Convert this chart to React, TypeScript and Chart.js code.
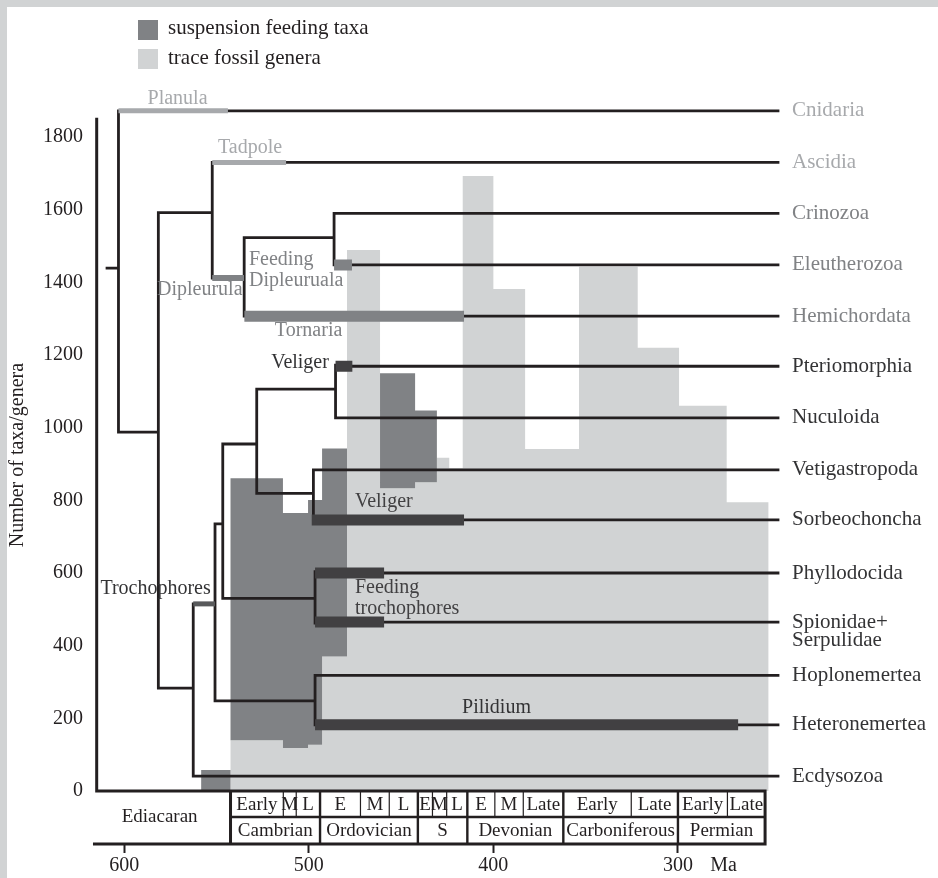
import React, { useEffect, useRef } from "react";
import { Chart, registerables } from "chart.js";

Chart.register(...registerables);

// ---------------- data ----------------
const yTickValues = [0, 200, 400, 600, 800, 1000, 1200, 1400, 1600, 1800];
const xTickValues = [600, 500, 400, 300];
const xUnit = "Ma";
const xUnitAt = 275.3;
const yTitle = "Number of taxa/genera";
const legendLabels = ["suspension feeding taxa", "trace fossil genera"];

// trace fossil genera (step histogram, Ma bin edges)
const traceEdges = [542.4, 514.0, 500.4, 492.8, 479.3, 461.4, 442.4, 430.6, 423.9, 416.6, 400.0, 382.8, 353.6, 321.8, 299.4, 273.6, 251.0];
const traceCounts = [140, 118, 127, 370, 1489, 833, 850, 917, 888, 1693, 1382, 941, 1443, 1220, 1060, 795];

// suspension feeding taxa (floating bins)
const suspStart = [558.3, 542.4, 514.0, 500.4, 492.8, 461.4, 442.4];
const suspEnd = [542.4, 514.0, 500.4, 492.8, 479.3, 442.4, 430.6];
const suspLow = [0, 140, 118, 127, 370, 833, 850];
const suspHigh = [58, 861, 765, 801, 943, 1150, 1047];

// terminal taxa of the tree
const taxa = ["Cnidaria", "Ascidia", "Crinozoa", "Eleutherozoa", "Hemichordata", "Pteriomorphia", "Nuculoida", "Vetigastropoda", "Sorbeochoncha", "Phyllodocida", "Spionidae+\nSerpulidae", "Hoplonemertea", "Heteronemertea", "Ecdysozoa"];
const taxaLevel = [1872, 1730, 1590, 1448, 1307, 1169, 1027, 884, 746, 600, 465, 318, 182, 41];
const taxaFrom = [543.8, 512.3, 486.3, 476.6, 415.9, 476.4, 485.5, 497.5, 415.9, 459.2, 459.2, 496.6, 267.4, 562.6];
const tipAge = 245.8;

// internal nodes (vertical connectors)
const nodeAge = [603.1, 581.5, 552.3, 535.0, 486.3, 562.6, 550.8, 546.6, 528.2, 497.5, 485.5, 496.6, 496.6];
const nodeTop = [1872, 1592, 1730, 1523, 1590, 515, 735, 955, 1106, 884, 1172, 604, 317];
const nodeBottom = [988, 283, 1412, 1307, 1448, 41, 248, 530, 819, 746, 1027, 462, 182];

// internal branches (horizontal)
const branchLevel = [1439, 988, 1592, 1523, 283, 735, 955, 1106, 819, 530, 248];
const branchFrom = [609.3, 603.1, 581.5, 535.0, 581.5, 550.8, 546.6, 528.2, 528.2, 546.6, 550.8];
const branchTo = [603.1, 581.5, 552.3, 486.3, 562.6, 546.6, 528.2, 485.5, 497.5, 496.6, 496.6];

// larval-type bars on branches
const larvaFrom = [603.1, 552.3, 552.3, 534.9, 486.3, 485.5, 498.4, 496.6, 496.6, 496.6, 562.6];
const larvaTo = [543.8, 512.3, 535.1, 415.9, 476.6, 476.4, 415.9, 459.2, 459.2, 267.4, 550.8];
const larvaLevel = [1872, 1730, 1412, 1307, 1448, 1169, 746, 600, 465, 182, 515];
const larvaKind = ["pale", "pale", "midThin", "mid", "mid", "dark", "dark", "dark", "dark", "dark", "troch"];

// larval-type names
const larvaNames = ["Planula", "Tadpole", "Dipleurula", "Feeding\nDipleuruala", "Tornaria", "Veliger", "Veliger", "Feeding\ntrochophores", "Pilidium", "Trochophores"];
const larvaNameAge = [571.1, 531.8, 535.9, 532.4, 500.1, 489.1, 475.0, 475.0, 398.3, 553.1];
const larvaNameLevel = [1905, 1770, 1379, 1461, 1266, 1178, 796, 559, 228, 556];

// geological time scale
const stageNames = ["Early", "M", "L", "E", "M", "L", "E", "M", "L", "E", "M", "Late", "Early", "Late", "Early", "Late"];
const stageBounds = [542.4, 513.8, 506.8, 493.9, 472.0, 456.4, 440.9, 433.0, 425.3, 414.1, 399.2, 383.8, 362.1, 325.3, 300.0, 273.2, 252.8];
const periodNames = ["Cambrian", "Ordovician", "S", "Devonian", "Carboniferous", "Permian"];
const periodBounds = [542.4, 493.9, 440.9, 414.1, 362.1, 300.0, 252.8];
const eonName = "Ediacaran";

// ---------------- styles / geometry ----------------
const FONT = '"Liberation Serif", "Times New Roman", serif';
const INK = "#231f20";
const LIGHT = "#d1d3d4";
const MID = "#808285";
const PALE = "#a7a9ac";
const DARK = "#414042";
const TROCH = "#58595b";
const TEXT_DARK = "#333335";

const X_MAX = 616.36;
const X_MIN = 245.8;
const Y_MIN = -145.9;
const Y_MAX = 1929.4;
const AXIS_AGE = 614.9;
const AXIS_LEFT_AGE = 616.1;
const AXIS_TOP = 1849;
const ROW_SPLIT = -71.6;
const EON_CENTER = 580.8;

const barStyle: Record<string, { color: string; width: number }> = {
  pale: { color: PALE, width: 5 },
  midThin: { color: MID, width: 6 },
  mid: { color: MID, width: 11 },
  dark: { color: DARK, width: 11 },
  troch: { color: TROCH, width: 5 },
};
const taxaColor = (i: number) => (i < 2 ? PALE : i < 5 ? MID : TEXT_DARK);
const larvaNameColor = [PALE, PALE, MID, MID, MID, TEXT_DARK, "#414042", "#414042", TEXT_DARK, TEXT_DARK];
const larvaNameAlign: CanvasTextAlign[] = ["center", "center", "right", "left", "center", "right", "left", "left", "center", "right"];

type P = { x: number; y: number | null };
const seg = (x1: number, y1: number, x2: number, y2: number): P[] => [
  { x: x1, y: y1 },
  { x: x2, y: y2 },
  { x: x2, y: null },
];

function lineSet(data: P[], color: string, width: number, order: number, cap: CanvasLineCap = "butt") {
  return {
    data,
    borderColor: color,
    borderWidth: width,
    borderCapStyle: cap,
    borderJoinStyle: "miter",
    pointRadius: 0,
    fill: false,
    order,
    clip: false,
  } as any;
}

function buildDatasets() {
  const ds: any[] = [];

  // trace fossil genera polygon
  const trace: P[] = [{ x: traceEdges[0], y: 0 }];
  traceCounts.forEach((c, i) => {
    trace.push({ x: traceEdges[i], y: c }, { x: traceEdges[i + 1], y: c });
  });
  trace.push({ x: traceEdges[traceEdges.length - 1], y: 0 });
  ds.push({
    label: legendLabels[1],
    data: trace,
    fill: "shape",
    backgroundColor: LIGHT,
    borderColor: "rgba(0,0,0,0)",
    borderWidth: 1,
    pointRadius: 0,
    order: 50,
  });

  // suspension feeding polygons (contiguous groups)
  const groups: number[][] = [];
  suspStart.forEach((s, i) => {
    if (i > 0 && Math.abs(suspEnd[i - 1] - s) < 1e-6) groups[groups.length - 1].push(i);
    else groups.push([i]);
  });
  const susp: P[] = [];
  groups.forEach((g) => {
    g.forEach((i) => susp.push({ x: suspStart[i], y: suspHigh[i] }, { x: suspEnd[i], y: suspHigh[i] }));
    [...g].reverse().forEach((i) => susp.push({ x: suspEnd[i], y: suspLow[i] }, { x: suspStart[i], y: suspLow[i] }));
    susp.push({ x: suspStart[g[0]], y: null });
  });
  ds.push({
    label: legendLabels[0],
    data: susp,
    fill: "shape",
    backgroundColor: MID,
    borderColor: "rgba(0,0,0,0)",
    borderWidth: 1,
    pointRadius: 0,
    order: 49,
  });

  // axis lines
  const axes: P[] = [
    ...seg(AXIS_AGE, 0, AXIS_AGE, AXIS_TOP),
    ...seg(AXIS_AGE, 0, periodBounds[periodBounds.length - 1], 0),
    ...seg(AXIS_LEFT_AGE, Y_MIN, periodBounds[periodBounds.length - 1], Y_MIN),
    ...seg(periodBounds[0], 0, periodBounds[0], Y_MIN),
    ...seg(periodBounds[periodBounds.length - 1], 0, periodBounds[periodBounds.length - 1], Y_MIN),
  ];
  ds.push(lineSet(axes, INK, 3, 10, "square"));

  // time scale inner lines
  const periodLines: P[] = [...seg(periodBounds[0], ROW_SPLIT, periodBounds[periodBounds.length - 1], ROW_SPLIT)];
  periodBounds.slice(1, -1).forEach((b) => periodLines.push(...seg(b, 0, b, Y_MIN)));
  ds.push(lineSet(periodLines, INK, 2.4, 11));
  const stageLines: P[] = [];
  stageBounds.slice(1, -1).forEach((b) => {
    if (!periodBounds.includes(b)) stageLines.push(...seg(b, 0, b, ROW_SPLIT));
  });
  ds.push(lineSet(stageLines, INK, 1.2, 12));

  // tree
  const tree: P[] = [];
  taxa.forEach((_, i) => tree.push(...seg(taxaFrom[i], taxaLevel[i], tipAge, taxaLevel[i])));
  nodeAge.forEach((a, i) => tree.push(...seg(a, nodeTop[i], a, nodeBottom[i])));
  branchLevel.forEach((l, i) => tree.push(...seg(branchFrom[i], l, branchTo[i], l)));
  ds.push(lineSet(tree, INK, 2.8, 5, "square"));

  // larval bars
  Object.keys(barStyle).forEach((k) => {
    const pts: P[] = [];
    larvaKind.forEach((kind, i) => {
      if (kind === k) pts.push(...seg(larvaFrom[i], larvaLevel[i], larvaTo[i], larvaLevel[i]));
    });
    if (pts.length) ds.push(lineSet(pts, barStyle[k].color, barStyle[k].width, 1));
  });
  return ds;
}

const annotations = {
  id: "annotations",
  afterDatasetsDraw(chart: any) {
    const { ctx, chartArea } = chart;
    const xs = chart.scales.x;
    const ys = chart.scales.y;
    const px = (v: number) => xs.getPixelForValue(v);
    const py = (v: number) => ys.getPixelForValue(v);
    const font = (s: number) => `${s}px ${FONT}`;
    ctx.save();
    ctx.textBaseline = "middle";

    // taxa names at the tips
    ctx.font = font(21);
    ctx.textAlign = "left";
    taxa.forEach((name, i) => {
      ctx.fillStyle = taxaColor(i);
      name.split("\n").forEach((line, k) => ctx.fillText(line, chartArea.right + 14, py(taxaLevel[i]) + k * 18));
    });

    // larval type names
    ctx.font = font(20);
    larvaNames.forEach((name, i) => {
      ctx.fillStyle = larvaNameColor[i];
      ctx.textAlign = larvaNameAlign[i];
      name.split("\n").forEach((line, k) => ctx.fillText(line, px(larvaNameAge[i]), py(larvaNameLevel[i]) + k * 20.5));
    });

    // time scale text
    ctx.fillStyle = INK;
    ctx.textAlign = "center";
    ctx.font = font(19);
    stageNames.forEach((n, i) => {
      ctx.fillText(n, (px(stageBounds[i]) + px(stageBounds[i + 1])) / 2, py(ROW_SPLIT / 2) + 1);
    });
    periodNames.forEach((n, i) => {
      ctx.fillText(n, (px(periodBounds[i]) + px(periodBounds[i + 1])) / 2, py((ROW_SPLIT + Y_MIN) / 2) + 1);
    });
    ctx.fillText(eonName, px(EON_CENTER), py(ROW_SPLIT));

    // y title
    ctx.font = font(20);
    ctx.save();
    ctx.translate(18, py(AXIS_TOP / 2));
    ctx.rotate(-Math.PI / 2);
    ctx.fillText(yTitle, 0, 0);
    ctx.restore();

    // legend
    ctx.font = font(21);
    const sw = [MID, LIGHT];
    legendLabels.forEach((l, i) => {
      ctx.fillStyle = sw[i];
      ctx.fillRect(138, 20 + i * 29, 20, 20);
      ctx.fillStyle = INK;
      ctx.textAlign = "left";
      ctx.fillText(l, 168, 28 + i * 30);
    });
    ctx.restore();
  },
};

export default function App() {
  const ref = useRef<HTMLCanvasElement | null>(null);
  useEffect(() => {
    if (!ref.current) return;
    const chart = new Chart(ref.current, {
      type: "line",
      data: { datasets: buildDatasets() },
      options: {
        animation: false,
        responsive: false,
        maintainAspectRatio: false,
        devicePixelRatio: 1,
        events: [],
        layout: { padding: { top: 90, right: 160, bottom: 0, left: 0 } },
        elements: { point: { radius: 0 }, line: { tension: 0 } },
        plugins: { legend: { display: false }, tooltip: { enabled: false } },
        scales: {
          x: {
            type: "linear",
            reverse: true,
            min: X_MIN,
            max: X_MAX,
            afterFit: (s: any) => {
              s.height = 34;
            },
            afterBuildTicks: (s: any) => {
              s.ticks = [...xTickValues, xUnitAt].map((v) => ({ value: v }));
            },
            ticks: {
              autoSkip: false,
              maxRotation: 0,
              padding: 1,
              color: INK,
              font: { family: FONT, size: 20 },
              callback: (v: any) => (v === xUnitAt ? xUnit : String(v)),
            },
            grid: {
              display: true,
              drawOnChartArea: false,
              drawTicks: true,
              tickLength: 9,
              tickWidth: 2,
              tickColor: (c: any) => (c.tick && c.tick.value === xUnitAt ? "rgba(0,0,0,0)" : INK),
            },
            border: { display: false },
          },
          y: {
            type: "linear",
            min: Y_MIN,
            max: Y_MAX,
            afterFit: (s: any) => {
              s.width = 94;
            },
            afterBuildTicks: (s: any) => {
              s.ticks = yTickValues.map((v) => ({ value: v }));
            },
            ticks: {
              autoSkip: false,
              padding: 11,
              color: INK,
              font: { family: FONT, size: 20 },
              callback: (v: any) => String(v),
            },
            grid: { display: false, drawTicks: false },
            border: { display: false },
          },
        },
      } as any,
      plugins: [annotations],
    });
    return () => chart.destroy();
  }, []);

  return (
    <div style={{ position: "absolute", left: 0, top: 0, width: 938, height: 878, background: "#fff", overflow: "hidden" }}>
      <div style={{ position: "absolute", left: 0, top: 0, width: 938, height: 7, background: LIGHT }} />
      <div style={{ position: "absolute", left: 0, top: 0, width: 7, height: 878, background: LIGHT }} />
      <canvas ref={ref} width={938} height={878} style={{ position: "absolute", left: 0, top: 0, width: 938, height: 878 }} />
    </div>
  );
}
